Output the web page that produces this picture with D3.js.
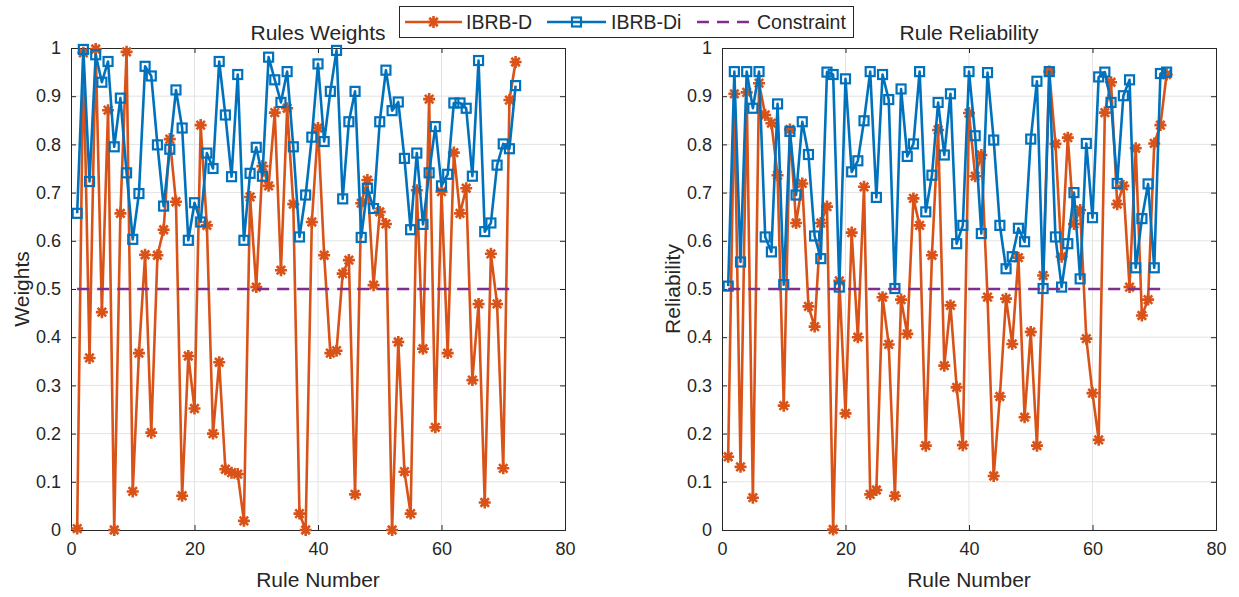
<!DOCTYPE html>
<html>
<head>
<meta charset="utf-8">
<script src="https://cdn.jsdelivr.net/npm/d3@7/dist/d3.min.js"></script>
<style>
  html, body { margin: 0; padding: 0; background: #fff; }
  svg { display: block; font-family: "Liberation Sans", Arial, sans-serif; }
</style>
</head>
<body>
<svg id="chart" width="1239" height="597"></svg>
<script>
// ---------- DATA ----------
const ruleNumbers = d3.range(1, 73);
const xTicks = [0, 20, 40, 60, 80];
const yTicks = [0, 0.1, 0.2, 0.3, 0.4, 0.5, 0.6, 0.7, 0.8, 0.9, 1];
const yTickLabels = ["0", "0.1", "0.2", "0.3", "0.4", "0.5", "0.6", "0.7", "0.8", "0.9", "1"];
const seriesNames = ["IBRB-D", "IBRB-Di", "Constraint"];
const constraintValue = 0.5;

const weightsD = [0.003,0.99,0.357,0.998,0.452,0.871,0.0,0.657,0.992,0.080,0.367,0.571,0.202,0.570,0.623,0.811,0.681,0.071,0.361,0.252,
  0.840,0.632,0.200,0.348,0.126,0.119,0.116,0.019,0.691,0.504,0.755,0.714,0.866,0.539,0.875,0.676,0.034,0.0,0.639,0.834,
  0.570,0.367,0.372,0.532,0.560,0.074,0.678,0.726,0.508,0.660,0.635,0.0,0.390,0.121,0.034,0.705,0.376,0.894,0.213,0.702,
  0.367,0.783,0.657,0.709,0.311,0.469,0.057,0.573,0.469,0.128,0.892,0.971];
const weightsDi = [0.657,0.997,0.723,0.986,0.929,0.972,0.795,0.896,0.741,0.603,0.698,0.962,0.942,0.799,0.672,0.790,0.913,0.834,0.601,0.679,
  0.639,0.782,0.750,0.972,0.861,0.733,0.945,0.601,0.740,0.794,0.734,0.981,0.934,0.887,0.951,0.795,0.608,0.695,0.815,0.967,
  0.806,0.910,0.995,0.687,0.847,0.910,0.607,0.709,0.667,0.847,0.954,0.870,0.888,0.771,0.623,0.782,0.634,0.741,0.837,0.714,
  0.738,0.886,0.886,0.875,0.734,0.974,0.619,0.637,0.757,0.801,0.791,0.922];
const reliabD = [0.152,0.905,0.131,0.908,0.067,0.927,0.861,0.844,0.736,0.258,0.831,0.637,0.719,0.464,0.422,0.637,0.671,0.001,0.517,0.242,
  0.617,0.400,0.712,0.074,0.083,0.483,0.385,0.071,0.478,0.407,0.688,0.632,0.175,0.570,0.830,0.341,0.466,0.296,0.176,0.865,
  0.734,0.778,0.483,0.112,0.277,0.480,0.386,0.565,0.234,0.411,0.175,0.528,0.951,0.801,0.567,0.814,0.635,0.664,0.397,0.284,
  0.187,0.866,0.929,0.676,0.714,0.504,0.792,0.445,0.478,0.802,0.840,0.945];
const reliabDi = [0.506,0.951,0.556,0.951,0.875,0.951,0.608,0.577,0.884,0.509,0.827,0.695,0.847,0.779,0.610,0.563,0.950,0.945,0.504,0.936,
  0.743,0.766,0.849,0.951,0.690,0.945,0.893,0.501,0.915,0.775,0.801,0.951,0.660,0.736,0.887,0.778,0.905,0.594,0.632,0.951,
  0.818,0.615,0.949,0.809,0.632,0.542,0.567,0.626,0.598,0.811,0.931,0.501,0.951,0.608,0.504,0.594,0.700,0.521,0.802,0.648,
  0.940,0.950,0.887,0.719,0.901,0.934,0.544,0.646,0.718,0.544,0.947,0.950];

// ---------- STYLE ----------
const C_ORANGE = "#D95319", C_BLUE = "#0072BD", C_PURPLE = "#7E2F8E", C_TEXT = "#262626";
const svg = d3.select("#chart");

function starPath(r) {
  let p = "";
  for (let k = 0; k < 4; k++) {
    const a = k * Math.PI / 4;
    const dx = r * Math.cos(a), dy = r * Math.sin(a);
    p += `M${-dx},${-dy}L${dx},${dy}`;
  }
  return p;
}

function drawPanel(left, title, ylabel, dVals, diVals) {
  const top = 48, bottom = 530, width = 494;
  const x = d3.scaleLinear().domain([0, 80]).range([left, left + width]);
  const y = d3.scaleLinear().domain([0, 1]).range([bottom, top]);
  const g = svg.append("g");

  // grid
  g.append("g").selectAll("line.gx").data(xTicks.slice(1, -1)).join("line")
    .attr("x1", d => x(d)).attr("x2", d => x(d)).attr("y1", top).attr("y2", bottom)
    .attr("stroke", "#e3e3e3").attr("stroke-width", 1);
  g.append("g").selectAll("line.gy").data(yTicks.slice(1, -1)).join("line")
    .attr("x1", left).attr("x2", left + width).attr("y1", d => y(d)).attr("y2", d => y(d))
    .attr("stroke", "#e3e3e3").attr("stroke-width", 1);

  // axes using d3 axis generators (ticks inward)
  const axB = d3.axisBottom(x).tickValues(xTicks).tickSize(-5).tickFormat(d3.format("d")).tickPadding(12);
  const axL = d3.axisLeft(y).tickValues(yTicks).tickSize(-5).tickFormat((d, i) => yTickLabels[i]).tickPadding(10);
  const axT = d3.axisTop(x).tickValues(xTicks).tickSize(-5).tickFormat("");
  const axR = d3.axisRight(y).tickValues(yTicks).tickSize(-5).tickFormat("");
  const styleAxis = sel => {
    sel.select(".domain").attr("stroke", C_TEXT).attr("stroke-width", 1);
    sel.selectAll(".tick line").attr("stroke", C_TEXT);
    sel.selectAll(".tick text").attr("fill", C_TEXT).style("font-size", "18px")
      .style("font-family", '"Liberation Sans", Arial, sans-serif');
  };
  g.append("g").attr("transform", `translate(0,${bottom})`).call(axB).call(styleAxis);
  g.append("g").attr("transform", `translate(${left},0)`).call(axL).call(styleAxis);
  g.append("g").attr("transform", `translate(0,${top})`).call(axT).call(styleAxis);
  g.append("g").attr("transform", `translate(${left + width},0)`).call(axR).call(styleAxis);

  const line = d3.line().x((d, i) => x(ruleNumbers[i])).y(d => y(d));

  // IBRB-D
  g.append("path").datum(dVals).attr("d", line).attr("fill", "none")
    .attr("stroke", C_ORANGE).attr("stroke-width", 2.6).attr("stroke-linejoin", "round");
  g.append("g").selectAll("path").data(dVals).join("path")
    .attr("transform", (d, i) => `translate(${x(ruleNumbers[i])},${y(d)})`)
    .attr("d", starPath(6)).attr("stroke", C_ORANGE).attr("stroke-width", 2.6).attr("fill", "none");

  // IBRB-Di
  g.append("path").datum(diVals).attr("d", line).attr("fill", "none")
    .attr("stroke", C_BLUE).attr("stroke-width", 2.6).attr("stroke-linejoin", "round");
  g.append("g").selectAll("rect").data(diVals).join("rect")
    .attr("x", (d, i) => x(ruleNumbers[i]) - 4.5).attr("y", d => y(d) - 4.5)
    .attr("width", 9).attr("height", 9)
    .attr("fill", "none").attr("stroke", C_BLUE).attr("stroke-width", 2.2);

  // Constraint
  g.append("line")
    .attr("x1", x(ruleNumbers[0])).attr("x2", x(ruleNumbers[ruleNumbers.length - 1]))
    .attr("y1", y(constraintValue)).attr("y2", y(constraintValue))
    .attr("stroke", C_PURPLE).attr("stroke-width", 2.6).attr("stroke-dasharray", "12,8");

  // title and labels
  g.append("text").attr("x", left + width / 2).attr("y", 40).attr("text-anchor", "middle")
    .attr("fill", C_TEXT).style("font-size", "21px").text(title);
  g.append("text").attr("x", left + width / 2).attr("y", 587).attr("text-anchor", "middle")
    .attr("fill", C_TEXT).style("font-size", "21px").text("Rule Number");
  g.append("text").attr("transform", `translate(${left - 42},${(top + bottom) / 2}) rotate(-90)`)
    .attr("text-anchor", "middle").attr("fill", C_TEXT).style("font-size", "21px").text(ylabel);
}

drawPanel(71, "Rules Weights", "Weights", weightsD, weightsDi);
drawPanel(722, "Rule Reliability", "Reliability", reliabD, reliabDi);

// ---------- LEGEND ----------
const lg = svg.append("g");
lg.append("rect").attr("x", 399.5).attr("y", 6.5).attr("width", 454).attr("height", 31)
  .attr("fill", "#fff").attr("stroke", C_TEXT).attr("stroke-width", 1);
const items = [
  { name: seriesNames[0], color: C_ORANGE, x0: 405, x1: 462, tx: 466, marker: "star" },
  { name: seriesNames[1], color: C_BLUE, x0: 547, x1: 606, tx: 611, marker: "square" },
  { name: seriesNames[2], color: C_PURPLE, x0: 697, x1: 753, tx: 757, marker: "dash" }
];
items.forEach(it => {
  const ly = 22;
  lg.append("line").attr("x1", it.x0).attr("x2", it.x1).attr("y1", ly).attr("y2", ly)
    .attr("stroke", it.color).attr("stroke-width", 2.6)
    .attr("stroke-dasharray", it.marker === "dash" ? "12,8" : null);
  const cx = (it.x0 + it.x1) / 2;
  if (it.marker === "star") {
    lg.append("path").attr("transform", `translate(${cx},${ly})`).attr("d", starPath(6))
      .attr("stroke", it.color).attr("stroke-width", 2.6).attr("fill", "none");
  } else if (it.marker === "square") {
    lg.append("rect").attr("x", cx - 4.5).attr("y", ly - 4.5).attr("width", 9).attr("height", 9)
      .attr("fill", "none").attr("stroke", it.color).attr("stroke-width", 2.2);
  }
  lg.append("text").attr("x", it.tx).attr("y", ly + 7).attr("fill", C_TEXT)
    .style("font-size", "19.5px").text(it.name);
});
</script>
</body>
</html>
